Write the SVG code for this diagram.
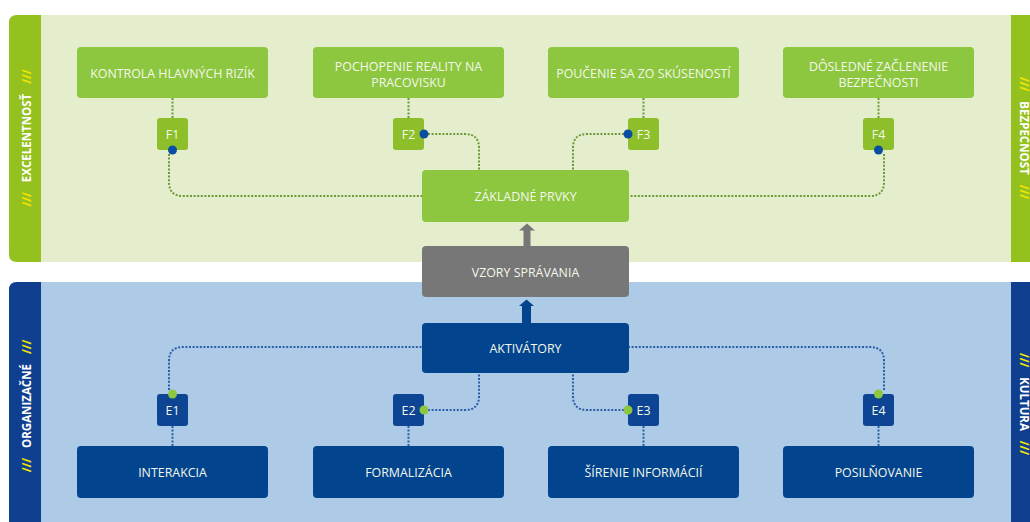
<svg xmlns="http://www.w3.org/2000/svg" width="1030" height="522" viewBox="0 0 1030 522">
<style>
.t{font-family:"Open Sans","Liberation Sans",sans-serif;font-size:12.4px;fill:#f3f8ea;text-anchor:middle}
.s{font-family:"Open Sans","Liberation Sans",sans-serif;font-size:11.5px;font-weight:bold;fill:#ffffff;text-anchor:middle}
.y{fill:#f2e600}
.gb{fill:#8dc63f}
.gs{fill:#8cbf2a}
.bb{fill:#03448f}
.bs{fill:#0d4594}
.dg{fill:none;stroke:#6d9a36;stroke-width:2;stroke-dasharray:2 1.6}
.db{fill:none;stroke:#2a5ea8;stroke-width:2;stroke-dasharray:2 1.6}
</style>
<rect width="1030" height="522" fill="#ffffff"/>
<!-- top panel -->
<g id="panel-top">
<path d="M17,15 H1040 V262 H17 Q9,262 9,254 V23 Q9,15 17,15 Z" fill="#e4edcc"/>
<path d="M17,15 H41 V262 H17 Q9,262 9,254 V23 Q9,15 17,15 Z" fill="#95c11f"/>
<rect x="1011" y="15" width="30" height="247" fill="#95c11f"/>
<text class="s" transform="translate(31,138) rotate(-90)"><tspan class="y">///</tspan><tspan dx="10">EXCELENTNOSŤ</tspan><tspan class="y" dx="10">///</tspan></text>
<text class="s" transform="translate(1020,138) rotate(90)"><tspan class="y">///</tspan><tspan dx="10">BEZPEČNOSŤ</tspan><tspan class="y" dx="10">///</tspan></text>
</g>
<!-- bottom panel -->
<g id="panel-bottom">
<path d="M17,282 H1040 V530 H9 V290 Q9,282 17,282 Z" fill="#adcae6"/>
<path d="M17,282 H41 V530 H9 V290 Q9,282 17,282 Z" fill="#0f3f8e"/>
<rect x="1011" y="282" width="30" height="248" fill="#0f3f8e"/>
<text class="s" transform="translate(31,406) rotate(-90)"><tspan class="y">///</tspan><tspan dx="10">ORGANIZAČNÉ</tspan><tspan class="y" dx="10">///</tspan></text>
<text class="s" transform="translate(1020,404) rotate(90)"><tspan class="y">///</tspan><tspan dx="10">KULTÚRA</tspan><tspan class="y" dx="10">///</tspan></text>
</g>
<!-- connectors -->
<g id="connectors">
<path class="dg" d="M172.5,98 V118"/>
<path class="dg" d="M408.5,98 V118"/>
<path class="dg" d="M643.5,98 V118"/>
<path class="dg" d="M878.5,98 V118"/>
<path class="dg" d="M169,154 V182 Q169,196 183,196 H422"/>
<path class="dg" d="M884,154 V182 Q884,196 870,196 H629"/>
<path class="dg" d="M428,134 H465 Q479,134 479,148 V170"/>
<path class="dg" d="M624,134 H587 Q573,134 573,148 V170"/>
<path class="db" d="M169,390 V361 Q169,347 183,347 H422"/>
<path class="db" d="M884,390 V361 Q884,347 870,347 H629"/>
<path class="db" d="M428,410 H465 Q479,410 479,396 V373"/>
<path class="db" d="M624,410 H587 Q573,410 573,396 V373"/>
<path class="db" d="M172.5,426 V446"/>
<path class="db" d="M408.5,426 V446"/>
<path class="db" d="M643.5,426 V446"/>
<path class="db" d="M878.5,426 V446"/>
<rect x="523.5" y="229" width="7" height="17" fill="#777777"/>
<path d="M519,230.5 L527,223.5 L535,230.5 Z" fill="#777777"/>
<rect x="522" y="305" width="9" height="18" fill="#03448f"/>
<path d="M519,306 L526.5,299.5 L534,306 Z" fill="#03448f"/>
</g>
<!-- top nodes -->
<g id="kontrola"><rect class="gb" x="77" y="47" width="191" height="51" rx="4"/><text class="t" x="172.5" y="77.5">KONTROLA HLAVNÝCH RIZÍK</text></g>
<g id="pochopenie"><rect class="gb" x="313" y="47" width="191" height="51" rx="4"/><text class="t" x="408.5" y="71">POCHOPENIE REALITY NA</text><text class="t" x="408.5" y="87">PRACOVISKU</text></g>
<g id="poucenie"><rect class="gb" x="548" y="47" width="191" height="51" rx="4"/><text class="t" x="643.5" y="77.5">POUČENIE SA ZO SKÚSENOSTÍ</text></g>
<g id="dosledne"><rect class="gb" x="783" y="47" width="191" height="51" rx="4"/><text class="t" x="878.5" y="71">DÔSLEDNÉ ZAČLENENIE</text><text class="t" x="878.5" y="87">BEZPEČNOSTI</text></g>
<g id="f1"><rect class="gs" x="157" y="118" width="31" height="32" rx="3"/><text class="t" x="172.5" y="138.5">F1</text><circle cx="172.5" cy="150" r="4.5" fill="#0a4ea3"/></g>
<g id="f2"><rect class="gs" x="393" y="118" width="31" height="32" rx="3"/><text class="t" x="408.5" y="138.5">F2</text><circle cx="424" cy="134" r="4.5" fill="#0a4ea3"/></g>
<g id="f3"><rect class="gs" x="628" y="118" width="31" height="32" rx="3"/><text class="t" x="643.5" y="138.5">F3</text><circle cx="628" cy="134" r="4.5" fill="#0a4ea3"/></g>
<g id="f4"><rect class="gs" x="863" y="118" width="31" height="32" rx="3"/><text class="t" x="878.5" y="138.5">F4</text><circle cx="878.5" cy="150" r="4.5" fill="#0a4ea3"/></g>
<g id="zakladne"><rect class="gb" x="422" y="170" width="207" height="52" rx="4"/><text class="t" x="525.5" y="200.5">ZÁKLADNÉ PRVKY</text></g>
<g id="vzory"><rect x="422" y="246" width="207" height="51" rx="4" fill="#777777"/><text class="t" x="525.5" y="277">VZORY SPRÁVANIA</text></g>
<g id="aktivatory"><rect class="bb" x="422" y="323" width="207" height="50" rx="4"/><text class="t" x="525.5" y="352.5">AKTIVÁTORY</text></g>
<!-- bottom nodes -->
<g id="e1"><rect class="bs" x="157" y="394" width="31" height="32" rx="3"/><text class="t" x="172.5" y="414.5">E1</text><circle cx="172.5" cy="394" r="4.5" fill="#8dc63f"/></g>
<g id="e2"><rect class="bs" x="393" y="394" width="31" height="32" rx="3"/><text class="t" x="408.5" y="414.5">E2</text><circle cx="424" cy="410" r="4.5" fill="#8dc63f"/></g>
<g id="e3"><rect class="bs" x="628" y="394" width="31" height="32" rx="3"/><text class="t" x="643.5" y="414.5">E3</text><circle cx="628" cy="410" r="4.5" fill="#8dc63f"/></g>
<g id="e4"><rect class="bs" x="863" y="394" width="31" height="32" rx="3"/><text class="t" x="878.5" y="414.5">E4</text><circle cx="878.5" cy="394" r="4.5" fill="#8dc63f"/></g>
<g id="interakcia"><rect class="bb" x="77" y="446" width="191" height="52" rx="4"/><text class="t" x="172.5" y="476.5">INTERAKCIA</text></g>
<g id="formalizacia"><rect class="bb" x="313" y="446" width="191" height="52" rx="4"/><text class="t" x="408.5" y="476.5">FORMALIZÁCIA</text></g>
<g id="sirenie"><rect class="bb" x="548" y="446" width="191" height="52" rx="4"/><text class="t" x="643.5" y="476.5">ŠÍRENIE INFORMÁCIÍ</text></g>
<g id="posilnovanie"><rect class="bb" x="783" y="446" width="191" height="52" rx="4"/><text class="t" x="878.5" y="476.5">POSILŇOVANIE</text></g>
</svg>
